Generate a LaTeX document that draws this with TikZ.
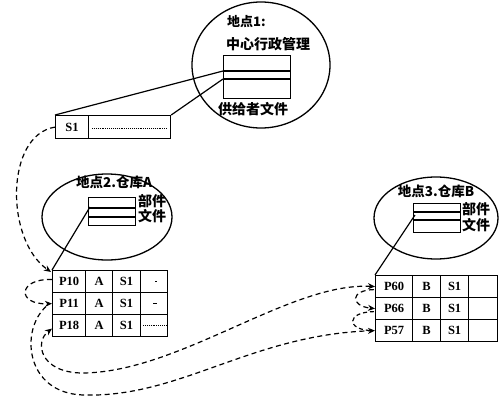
\documentclass[tikz,border=0pt]{standalone}
\usepackage{fontspec}
\setmainfont{Liberation Serif}
\newfontfamily\cjk{Noto Sans CJK SC}
\usetikzlibrary{shapes.geometric,arrows.meta,calc}
\begin{document}
\begin{tikzpicture}[x=1pt,y=-1pt,
  box/.style={draw,line width=1.3pt,inner sep=0pt,anchor=north west},
  cell/.style={draw,line width=1.2pt,inner sep=0pt,anchor=north west,minimum height=22pt,font=\bfseries\fontsize{12.5}{12.5}\selectfont},
  site/.style={draw,ellipse,line width=1.3pt,inner sep=0pt},
  cjkt/.style={font=\cjk\bfseries\fontsize{14}{14}\selectfont,inner sep=0pt},
  link/.style={line width=1.2pt},
  ptr/.style={line width=1.2pt,dash pattern=on 5pt off 3.5pt,-{Stealth[length=7pt,width=6pt]}},
  ptrboth/.style={line width=1.2pt,dash pattern=on 5pt off 3.5pt,{Stealth[length=7pt,width=6pt]}-{Stealth[length=7pt,width=6pt]}},
  ptrplain/.style={line width=1.2pt,dash pattern=on 4pt off 3pt}]
\useasboundingbox (0,0) rectangle (501,399);

% site ellipses
\node[site,minimum width=138pt,minimum height=126pt] (e1) at (261,65) {};
\node[site,minimum width=130pt,minimum height=86pt] (e2) at (107,217) {};
\node[site,minimum width=124pt,minimum height=82pt] (e3) at (436,218) {};

% titles
\node[cjkt,font=\cjk\bfseries\fontsize{13}{13}\selectfont,anchor=west] (t1) at (227,22) {地点1:};
\node[cjkt] (t2) at (268,44) {中心行政管理};
\node[cjkt] (t3) at (253,109) {供给者文件};
\node[cjkt,font=\cjk\bfseries\fontsize{13.5}{13.5}\selectfont] (t4) at (114,182) {地点2.仓库A};
\node[cjkt] (t5) at (152,201) {部件};
\node[cjkt] (t6) at (152,216) {文件};
\node[cjkt,font=\cjk\bfseries\fontsize{13.5}{13.5}\selectfont] (t7) at (436,191) {地点3.仓库B};
\node[cjkt] (t8) at (476,209) {部件};
\node[cjkt] (t9) at (476,225) {文件};

% files inside sites
\node[box,minimum width=67pt,minimum height=43pt] (r1) at (223,55) {};
\draw[link] ($(r1.north west)+(0,16)$) -- ($(r1.north east)+(0,16)$);
\draw[link] ($(r1.north west)+(0,24)$) -- ($(r1.north east)+(0,24)$);
\node[box,minimum width=47pt,minimum height=28pt] (r2) at (88,197) {};
\draw[link] ($(r2.north west)+(0,11)$) -- ($(r2.north east)+(0,11)$);
\draw[link] ($(r2.north west)+(0,20)$) -- ($(r2.north east)+(0,20)$);
\node[box,minimum width=47pt,minimum height=29pt] (r3) at (413,203) {};
\draw[link] ($(r3.north west)+(0,9)$) -- ($(r3.north east)+(0,9)$);
\draw[link] ($(r3.north west)+(0,17)$) -- ($(r3.north east)+(0,17)$);

% supplier record S1
\node[cell,minimum width=33pt,minimum height=23pt] (s1) at (55,115) {S1};
\node[cell,minimum width=82pt,minimum height=23pt] (s1r) at (88,115) {};
\draw[line width=0.9pt,densely dotted] ($(s1r.west)+(4,1)$) -- ($(s1r.east)+(-4,1)$);

% table at site 2
\foreach \r/\y/\p in {1/270/P10,2/292/P11,3/314/P18}{
  \node[cell,minimum width=33pt] (a\r1) at (52,\y) {\p};
  \node[cell,minimum width=27pt] (a\r2) at (85,\y) {A};
  \node[cell,minimum width=28pt] (a\r3) at (112,\y) {S1};
  \node[cell,minimum width=27pt] (a\r4) at (140,\y) {};
}
\draw[line width=0.9pt] ($(a14.center)+(1,0)$) -- ++(2,0);
\draw[line width=0.9pt] ($(a24.center)+(-1,0)$) -- ++(4,0);
\draw[line width=0.9pt,densely dotted] ($(a34.west)+(3,0)$) -- ($(a34.east)+(-2,0)$);

% table at site 3
\foreach \r/\y/\p in {1/275/P60,2/297/P66,3/319/P57}{
  \node[cell,minimum width=37pt] (b\r1) at (375,\y) {\p};
  \node[cell,minimum width=28pt] (b\r2) at (412,\y) {B};
  \node[cell,minimum width=28pt] (b\r3) at (440,\y) {S1};
  \node[cell,minimum width=29pt] (b\r4) at (468,\y) {};
}

% solid links from files to records
\draw[link] (s1.north west) -- ($(r1.north west)+(0,16)$);
\draw[link] (s1r.north east) -- ($(r1.north west)+(0,24)$);
\draw[link] ($(r2.north west)+(2,10)$) -- (a11.north west);
\draw[link] ($(r3.north west)+(2,12)$) -- (b11.north west);

% dashed pointer chains
\draw[ptr] (s1.west) .. controls (5,135) and (5,240) .. ($(a11.north west)+(-1,2)$);
\draw[ptr] ($(a11.west)+(0,-2)$) .. controls (18,278) and (16,305) .. (a21.west);
\draw[ptrboth] (b11.west) .. controls (290,282) and (180,372) .. (83,373)
  .. controls (40,373) and (34,342) .. ($(a31.west)+(0,3)$);
\draw[ptr] ($(a21.west)+(-6,3)$) .. controls (20,330) and (25,393) .. (83,395)
  .. controls (180,398) and (250,335) .. (b31.west);
\draw[ptr] ($(b11.west)+(-1,3)$) .. controls (350,290) and (350,306) .. (b21.west);
\draw[ptrplain] ($(b21.west)+(-1,3)$) .. controls (346,312) and (346,330) .. ($(b31.west)+(-3,0)$);
\end{tikzpicture}
\end{document}
